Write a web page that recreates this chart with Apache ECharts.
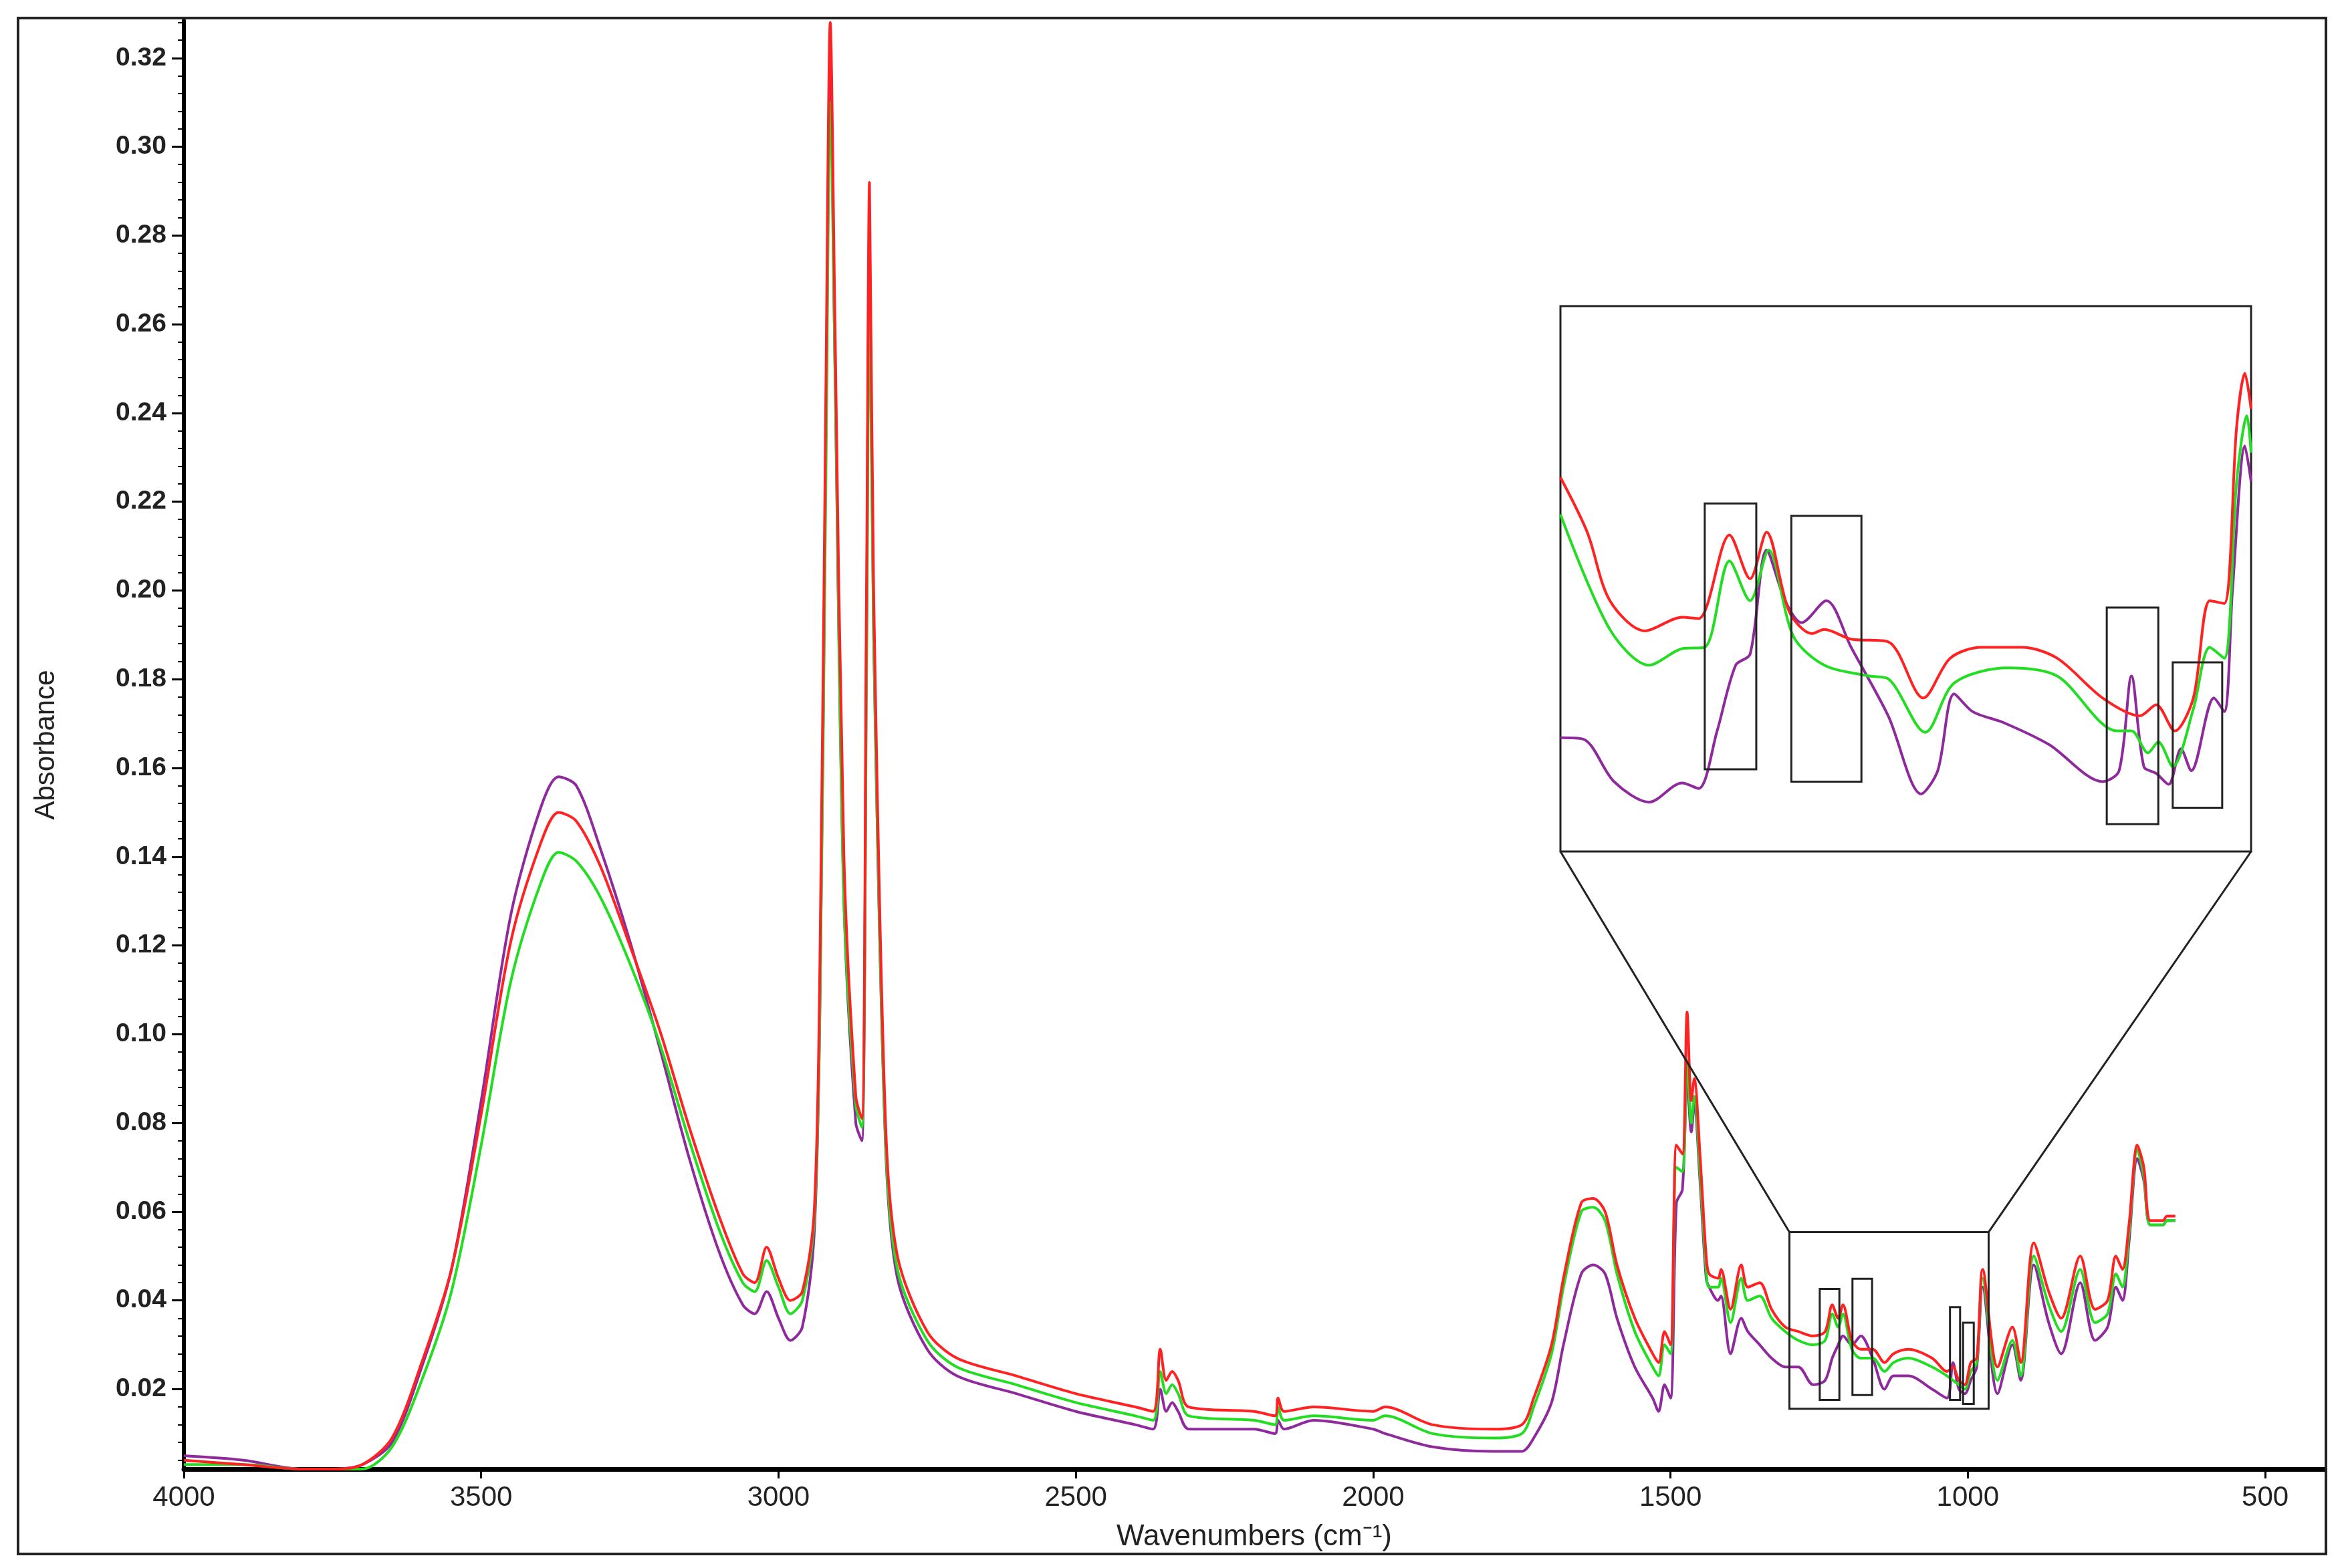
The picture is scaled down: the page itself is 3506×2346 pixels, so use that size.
<!DOCTYPE html>
<html><head><meta charset="utf-8">
<script src="https://cdn.jsdelivr.net/npm/echarts@6/dist/echarts.min.js"></script>
<style>html,body{margin:0;padding:0;background:#fff}#c{width:3506px;height:2346px}</style>
</head><body><div id="c"></div>
<script>
// ---- Main spectrum data: [wavenumber, absorbance] ----
const redMain = [[4000,0.004],[3900,0.003],[3800,0.002],[3750,0.002],[3700,0.003],[3650,0.009],[3600,0.026],[3550,0.047],[3500,0.082],[3450,0.121],[3400,0.143],[3370,0.150],[3340,0.148],[3300,0.138],[3250,0.120],[3200,0.101],[3150,0.079],[3100,0.059],[3060,0.046],[3040,0.044],[3020,0.052],[3000,0.045],[2980,0.040],[2960,0.042],[2940,0.060],[2930,0.12],[2920,0.25],[2913,0.328],[2905,0.26],[2890,0.14],[2870,0.086],[2860,0.081],[2852,0.2],[2847,0.292],[2840,0.2],[2820,0.08],[2800,0.05],[2750,0.033],[2700,0.027],[2600,0.023],[2500,0.019],[2400,0.016],[2370,0.015],[2358,0.029],[2348,0.022],[2338,0.024],[2328,0.022],[2310,0.016],[2200,0.015],[2165,0.014],[2160,0.018],[2150,0.015],[2100,0.016],[2000,0.015],[1980,0.016],[1900,0.012],[1800,0.011],[1750,0.012],[1730,0.018],[1700,0.030],[1680,0.045],[1650,0.062],[1630,0.063],[1610,0.060],[1590,0.048],[1560,0.036],[1530,0.028],[1520,0.026],[1510,0.033],[1500,0.030],[1490,0.075],[1480,0.073],[1472,0.105],[1465,0.085],[1460,0.090],[1450,0.072],[1440,0.050],[1435,0.046],[1420,0.045],[1415,0.047],[1399,0.038],[1381,0.048],[1370,0.043],[1350,0.044],[1330,0.038],[1307,0.034],[1285,0.033],[1260,0.032],[1240,0.033],[1228,0.039],[1218,0.036],[1210,0.039],[1195,0.031],[1180,0.029],[1160,0.029],[1140,0.026],[1125,0.028],[1100,0.029],[1060,0.027],[1035,0.024],[1025,0.025],[1015,0.022],[1005,0.021],[995,0.026],[985,0.027],[975,0.047],[950,0.025],[925,0.034],[911,0.026],[889,0.053],[864,0.042],[843,0.036],[811,0.050],[786,0.038],[765,0.040],[751,0.050],[740,0.047],[729,0.057],[715,0.075],[704,0.070],[693,0.058],[672,0.058],[665,0.059],[651,0.059]];
const greenMain = [[4000,0.003],[3900,0.003],[3800,0.002],[3750,0.002],[3700,0.002],[3650,0.007],[3600,0.022],[3550,0.042],[3500,0.075],[3450,0.112],[3400,0.134],[3370,0.141],[3340,0.139],[3300,0.131],[3250,0.116],[3200,0.098],[3150,0.076],[3100,0.056],[3060,0.044],[3040,0.042],[3020,0.049],[3000,0.043],[2980,0.037],[2960,0.040],[2940,0.058],[2930,0.11],[2920,0.23],[2913,0.31],[2905,0.25],[2890,0.13],[2870,0.084],[2860,0.079],[2852,0.18],[2847,0.27],[2840,0.19],[2820,0.076],[2800,0.047],[2750,0.031],[2700,0.025],[2600,0.021],[2500,0.017],[2400,0.014],[2370,0.013],[2358,0.024],[2348,0.019],[2338,0.021],[2328,0.019],[2310,0.014],[2200,0.013],[2165,0.012],[2160,0.016],[2150,0.013],[2100,0.014],[2000,0.013],[1980,0.014],[1900,0.010],[1800,0.009],[1750,0.010],[1730,0.016],[1700,0.028],[1680,0.043],[1650,0.060],[1630,0.061],[1610,0.058],[1590,0.046],[1560,0.033],[1530,0.025],[1520,0.023],[1510,0.030],[1500,0.028],[1490,0.070],[1480,0.069],[1472,0.094],[1465,0.080],[1460,0.086],[1450,0.068],[1440,0.047],[1435,0.043],[1420,0.043],[1415,0.045],[1399,0.035],[1381,0.045],[1370,0.040],[1350,0.041],[1330,0.036],[1307,0.033],[1285,0.031],[1260,0.030],[1240,0.031],[1228,0.037],[1218,0.034],[1210,0.037],[1195,0.029],[1180,0.027],[1160,0.027],[1140,0.024],[1125,0.026],[1100,0.027],[1060,0.025],[1035,0.023],[1025,0.022],[1015,0.021],[1005,0.020],[995,0.024],[985,0.026],[975,0.045],[950,0.022],[925,0.031],[911,0.023],[889,0.050],[864,0.039],[843,0.033],[811,0.047],[786,0.035],[765,0.037],[751,0.046],[740,0.043],[729,0.055],[715,0.074],[704,0.068],[693,0.057],[672,0.057],[665,0.058],[651,0.058]];
const purpleMain = [[4000,0.005],[3900,0.004],[3800,0.002],[3750,0.002],[3700,0.003],[3650,0.008],[3600,0.025],[3550,0.047],[3500,0.085],[3450,0.127],[3400,0.151],[3370,0.158],[3340,0.156],[3300,0.142],[3250,0.121],[3200,0.097],[3150,0.072],[3100,0.051],[3060,0.039],[3040,0.037],[3020,0.042],[3000,0.036],[2980,0.031],[2960,0.034],[2940,0.055],[2930,0.11],[2920,0.24],[2913,0.32],[2905,0.25],[2890,0.13],[2870,0.080],[2860,0.076],[2852,0.19],[2847,0.28],[2840,0.19],[2820,0.075],[2800,0.045],[2750,0.029],[2700,0.023],[2600,0.019],[2500,0.015],[2400,0.012],[2370,0.011],[2358,0.020],[2348,0.015],[2338,0.017],[2328,0.015],[2310,0.011],[2200,0.011],[2165,0.010],[2160,0.013],[2150,0.011],[2100,0.013],[2000,0.011],[1980,0.010],[1900,0.007],[1800,0.006],[1750,0.006],[1730,0.009],[1700,0.017],[1680,0.030],[1650,0.046],[1630,0.048],[1610,0.046],[1590,0.036],[1560,0.025],[1530,0.018],[1520,0.015],[1510,0.021],[1500,0.018],[1490,0.062],[1480,0.065],[1472,0.090],[1465,0.078],[1460,0.084],[1450,0.066],[1440,0.045],[1435,0.043],[1420,0.040],[1415,0.041],[1399,0.028],[1381,0.036],[1370,0.033],[1350,0.030],[1330,0.027],[1307,0.025],[1285,0.025],[1260,0.021],[1240,0.022],[1228,0.027],[1218,0.030],[1210,0.032],[1195,0.030],[1180,0.032],[1160,0.027],[1140,0.020],[1125,0.023],[1100,0.023],[1060,0.020],[1035,0.018],[1025,0.026],[1015,0.020],[1005,0.019],[995,0.022],[985,0.025],[975,0.043],[950,0.019],[925,0.030],[911,0.022],[889,0.048],[864,0.035],[843,0.028],[811,0.044],[786,0.031],[765,0.034],[751,0.043],[740,0.040],[729,0.053],[715,0.072],[704,0.067],[693,0.057],[672,0.057],[665,0.058],[651,0.058]];

// ---- Inset (magnified 1300-965 cm-1) data ----
const redInset = [[1300,0.0429],[1287,0.0389],[1276,0.0339],[1259,0.0317],[1241,0.0327],[1233,0.0326],[1218,0.0387],[1208,0.0355],[1200,0.0389],[1189,0.0331],[1178,0.0315],[1172,0.0318],[1159,0.0311],[1141,0.0309],[1124,0.0268],[1111,0.0297],[1096,0.0305],[1076,0.0305],[1059,0.0297],[1037,0.0268],[1019,0.0255],[1011,0.0263],[1002,0.0244],[993,0.0268],[985,0.0339],[978,0.0337],[972,0.0466],[968,0.0505],[965,0.0479]];
const greenInset = [[1300,0.0402],[1276,0.0318],[1257,0.0292],[1241,0.0304],[1230,0.0305],[1218,0.0368],[1208,0.0339],[1199,0.0376],[1187,0.0313],[1172,0.0292],[1150,0.0284],[1141,0.0282],[1123,0.0243],[1109,0.0279],[1083,0.0290],[1059,0.0284],[1030,0.0244],[1023,0.0244],[1015,0.0228],[1010,0.0236],[1003,0.0218],[993,0.0260],[985,0.0305],[978,0.0297],[972,0.0426],[967,0.0474],[965,0.0447]];
const purpleInset = [[1300,0.0239],[1289,0.0238],[1274,0.0207],[1257,0.0192],[1241,0.0206],[1233,0.0202],[1224,0.0244],[1215,0.0292],[1208,0.0300],[1200,0.0376],[1191,0.0339],[1183,0.0323],[1171,0.0339],[1159,0.0305],[1141,0.0255],[1125,0.0198],[1117,0.0215],[1109,0.0271],[1100,0.0258],[1085,0.0250],[1063,0.0234],[1037,0.0207],[1029,0.0215],[1023,0.0284],[1017,0.0218],[1011,0.0213],[1005,0.0205],[999,0.0231],[994,0.0215],[983,0.0268],[978,0.0258],[974,0.0347],[968,0.0452],[965,0.0426]];

// ---- Boxes: [[wnA, absA],[wnB, absB]] ----
const zoomBox = [[1300,0.0554],[965,0.0156]];
const mainBoxes = [[[1249,0.0426],[1216,0.0176]],[[1194,0.0449],[1161,0.0187]],[[1030,0.0385],[1013,0.0176]],[[1008,0.0350],[990,0.0167]]];
const insetBoxes = [[[1230,0.0410],[1205,0.0216]],[[1188,0.0401],[1154,0.0207]],[[1035,0.0334],[1010,0.0176]],[[1003,0.0294],[979,0.0188]]];

const yTicks = [0.02,0.04,0.06,0.08,0.10,0.12,0.14,0.16,0.18,0.20,0.22,0.24,0.26,0.28,0.30,0.32];
const yMinor = []; for (let i=1;i<=82;i++) yMinor.push(+(i*0.004).toFixed(3));
const xTicks = [4000,3500,3000,2500,2000,1500,1000,500];

const C_RED='#ff2222', C_GREEN='#22dd22', C_PURPLE='#8e2a9c';
const boxStyle = {color:'rgba(0,0,0,0)', borderColor:'#222', borderWidth:3};
const toArea = b => [{coord:b[0]},{coord:b[1]}];

const chart = echarts.init(document.getElementById('c'));
const G = {left:275, right:29, top:31, bottom:148};
const IG = {left:2334, top:458, width:1033, height:816};
const line = (name, data, color, xi, yi, extra) => Object.assign({
  name, type:'line', data, xAxisIndex:xi, yAxisIndex:yi, symbol:'none', smooth:0.3,
  lineStyle:{color, width:4}, itemStyle:{color}, z:3, silent:true, animation:false
}, extra||{});

chart.setOption({
  animation:false,
  backgroundColor:'#fff',
  grid:[G, Object.assign({show:true, borderColor:'#222', borderWidth:3, backgroundColor:'#fff', z:5}, IG)],
  xAxis:[
    {type:'value', gridIndex:0, inverse:true, min:400, max:4000,
     name:'Wavenumbers (cm\u207B\u00B9)', nameLocation:'middle', nameGap:80,
     nameTextStyle:{fontSize:44, color:'#222', fontFamily:'Liberation Sans'},
     axisLine:{lineStyle:{color:'#000', width:7}},
     axisTick:{customValues:xTicks, length:14, lineStyle:{width:3,color:'#000'}},
     axisLabel:{customValues:xTicks, fontSize:42, color:'#222', margin:22, fontFamily:'Liberation Sans',
       formatter:v=>String(v)},
     splitLine:{show:false}},
    {type:'value', gridIndex:1, inverse:true, min:965, max:1300, show:false, splitLine:{show:false}}
  ],
  yAxis:[
    {type:'value', gridIndex:0, min:0.002, max:0.3284,
     name:'Absorbance', nameLocation:'middle', nameGap:185, nameRotate:90,
     nameTextStyle:{fontSize:42, color:'#222', fontFamily:'Liberation Sans'},
     axisLine:{show:true, lineStyle:{color:'#000', width:6}},
     axisTick:{show:true, customValues:yTicks, length:18, lineStyle:{width:3,color:'#000'}},
     axisLabel:{customValues:yTicks, fontSize:39, color:'#222', margin:26, fontWeight:'bold', fontFamily:'Liberation Sans',
       formatter:v=>v.toFixed(2)},
     splitLine:{show:false}},
    {type:'value', gridIndex:0, min:0.002, max:0.3284, position:'left',
     axisLine:{show:false}, axisLabel:{show:false}, splitLine:{show:false},
     axisTick:{show:true, customValues:yMinor, length:9, lineStyle:{width:2,color:'#000'}}},
    {type:'value', gridIndex:1, min:0.0156, max:0.0554, show:false, splitLine:{show:false}}
  ],
  series:[
    line('purple', purpleMain, C_PURPLE, 0, 0),
    line('green', greenMain, C_GREEN, 0, 0),
    line('red', redMain, C_RED, 0, 0, {
      markArea:{silent:true, itemStyle:boxStyle, z:6,
        data:[toArea(zoomBox)].concat(mainBoxes.map(toArea))}}),
    line('purpleInset', purpleInset, C_PURPLE, 1, 2, {z:6}),
    line('greenInset', greenInset, C_GREEN, 1, 2, {z:6}),
    line('redInset', redInset, C_RED, 1, 2, {z:6,
      markArea:{silent:true, itemStyle:boxStyle, z:7, data:insetBoxes.map(toArea)}})
  ]
});

// Connector lines from the main zoom box to the inset, positioned through the axes
const pA = chart.convertToPixel({xAxisIndex:0, yAxisIndex:0}, zoomBox[0]);
const pB = chart.convertToPixel({xAxisIndex:0, yAxisIndex:0}, [zoomBox[1][0], zoomBox[0][1]]);
const qA = chart.convertToPixel({xAxisIndex:1, yAxisIndex:2}, [zoomBox[0][0], zoomBox[1][1]]);
const qB = chart.convertToPixel({xAxisIndex:1, yAxisIndex:2}, zoomBox[1]);
chart.setOption({graphic:[
  {type:'line', shape:{x1:pA[0],y1:pA[1],x2:qA[0],y2:qA[1]}, style:{stroke:'#222', lineWidth:3}, z:4, silent:true},
  {type:'line', shape:{x1:pB[0],y1:pB[1],x2:qB[0],y2:qB[1]}, style:{stroke:'#222', lineWidth:3}, z:4, silent:true},
  {type:'rect', shape:{x:27,y:27,width:3452,height:2298}, style:{fill:'none', stroke:'#222', lineWidth:4}, z:1, silent:true}
]});
</script></body></html>
